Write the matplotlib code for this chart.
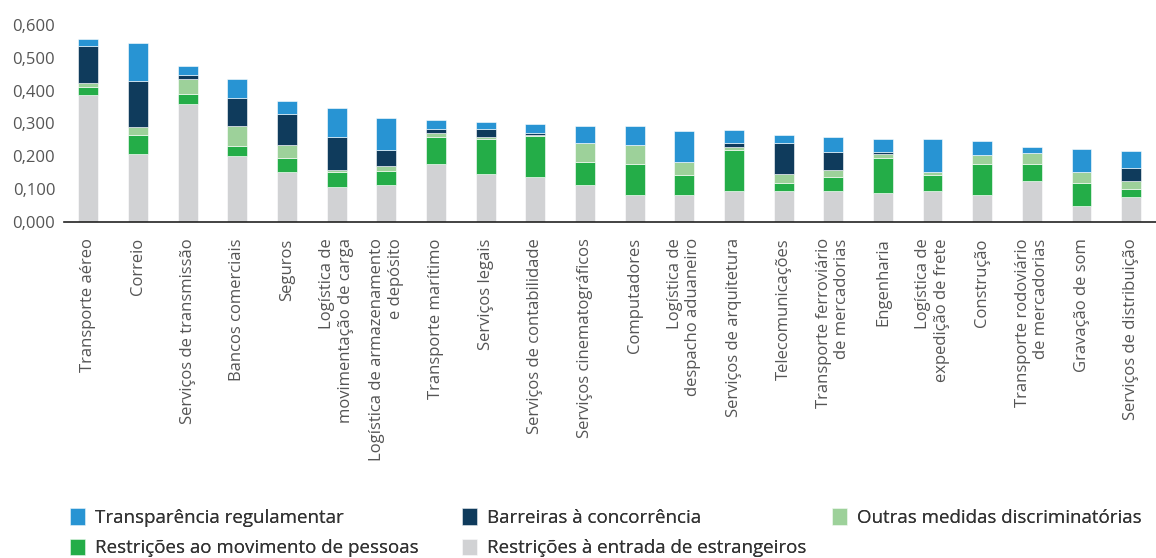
import matplotlib.pyplot as plt
import numpy as np
from matplotlib.ticker import FuncFormatter

plt.rcParams['font.family'] = ['Open Sans', 'DejaVu Sans']

setores = ["Transporte aéreo", "Correio", "Serviços de transmissão", "Bancos comerciais",
           "Seguros", "Logística de\nmovimentação de carga",
           "Logística de armazenamento\ne depósito", "Transporte marítimo",
           "Serviços legais", "Serviços de contabilidade", "Serviços cinematográficos",
           "Computadores", "Logística de\ndespacho aduaneiro", "Serviços de arquitetura",
           "Telecomunicações", "Transporte ferroviário\nde mercadorias", "Engenharia",
           "Logística de\nexpedição de frete", "Construção",
           "Transporte rodoviário\nde mercadorias", "Gravação de som",
           "Serviços de distribuição"]

entrada = [0.386, 0.207, 0.360, 0.201, 0.151, 0.106, 0.113, 0.176, 0.145, 0.137, 0.113,
           0.081, 0.081, 0.095, 0.094, 0.094, 0.088, 0.094, 0.080, 0.125, 0.049, 0.074]
movimento = [0.024, 0.057, 0.030, 0.031, 0.044, 0.046, 0.043, 0.082, 0.107, 0.123, 0.069,
             0.095, 0.062, 0.125, 0.025, 0.042, 0.106, 0.049, 0.096, 0.051, 0.070, 0.026]
outras = [0.013, 0.026, 0.046, 0.059, 0.038, 0.006, 0.015, 0.013, 0.006, 0.005, 0.058,
          0.058, 0.040, 0.007, 0.026, 0.021, 0.013, 0.008, 0.027, 0.033, 0.032, 0.025]
barreiras = [0.114, 0.140, 0.012, 0.087, 0.095, 0.101, 0.049, 0.013, 0.026, 0.006, 0.0,
             0.0, 0.0, 0.012, 0.094, 0.057, 0.006, 0.0, 0.0, 0.0, 0.0, 0.038]
transparencia = [0.020, 0.114, 0.027, 0.058, 0.039, 0.088, 0.096, 0.025, 0.019, 0.026, 0.051,
                 0.057, 0.095, 0.040, 0.026, 0.044, 0.039, 0.101, 0.043, 0.018, 0.070, 0.052]

series = [
    ("Restrições à entrada de estrangeiros", entrada, "#d1d2d4"),
    ("Restrições ao movimento de pessoas", movimento, "#24ad48"),
    ("Outras medidas discriminatórias", outras, "#9dd19a"),
    ("Barreiras à concorrência", barreiras, "#0f3b5c"),
    ("Transparência regulamentar", transparencia, "#2894d3"),
]

fig = plt.figure(figsize=(11.56, 5.58), dpi=100)
ax = fig.add_axes([0.055, 0.6027, 0.945, 0.3525])

x = np.arange(len(setores))
base = np.zeros(len(setores))
handles = {}
for nome, vals, cor in series:
    vals = np.array(vals)
    b = ax.bar(x, vals, 0.4, bottom=base, color=cor, edgecolor='white', linewidth=0.4, label=nome)
    handles[nome] = b
    base += vals

ax.set_xlim(-0.5, len(setores) - 0.5)
ax.set_ylim(0, 0.6)
ax.set_yticks(np.arange(0, 0.61, 0.1))
ax.yaxis.set_major_formatter(FuncFormatter(lambda v, p: f"{v:.3f}".replace('.', ',')))
ax.tick_params(axis='y', length=0, labelsize=12, labelcolor='#555555', pad=6)
ax.set_xticks(x)
ax.set_xticklabels(setores, rotation=90, fontsize=12, color='#555555',
                   va='top', ha='center', multialignment='right')
ax.tick_params(axis='x', length=0, pad=12)
for s in ['top', 'right', 'left']:
    ax.spines[s].set_visible(False)
ax.spines['bottom'].set_color('#222222')
ax.spines['bottom'].set_linewidth(1.2)

# legenda em 3 colunas fixas (uma legenda por coluna)
colunas = [
    (0.0458, ["Transparência regulamentar", "Restrições ao movimento de pessoas"]),
    (0.385, ["Barreiras à concorrência", "Restrições à entrada de estrangeiros"]),
    (0.705, ["Outras medidas discriminatórias"]),
]
for xpos, nomes in colunas:
    leg = fig.legend([handles[n] for n in nomes], nomes, loc='upper left',
                     bbox_to_anchor=(xpos, 0.119), frameon=False, fontsize=13.5,
                     handlelength=0.8, handleheight=1.0, handletextpad=0.55,
                     labelspacing=0.6, labelcolor='#333333')
    fig.add_artist(leg)

fig.savefig("out.png", dpi=100)
